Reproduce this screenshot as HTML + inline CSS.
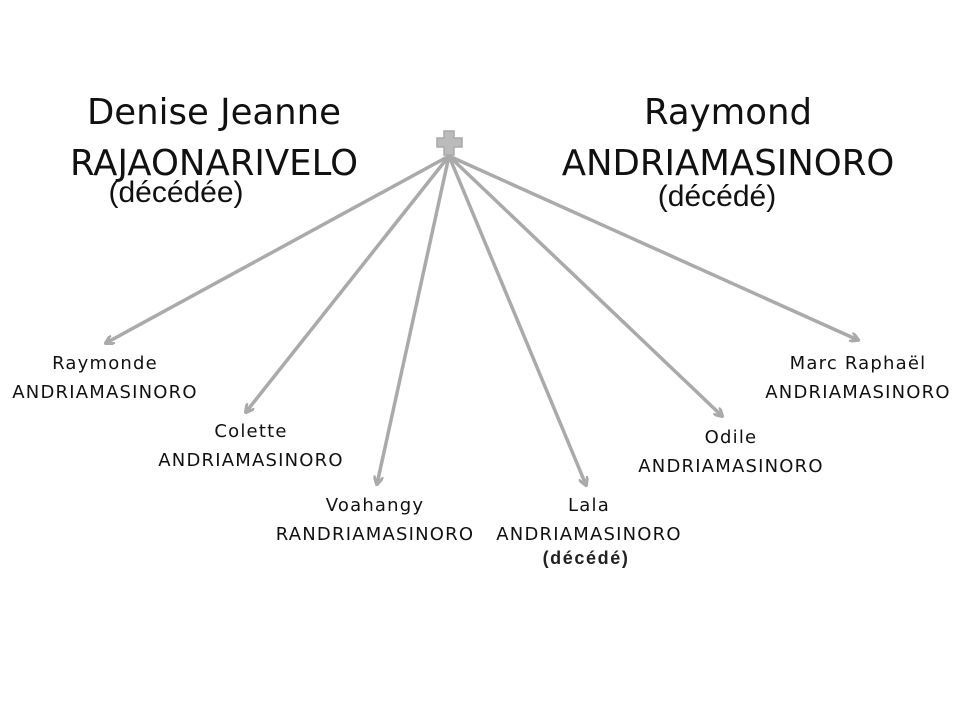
<!DOCTYPE html>
<html><head><meta charset="utf-8"><style>
html,body{margin:0;padding:0;background:#fff;}
body{width:960px;height:720px;position:relative;overflow:hidden;}
.t{position:absolute;white-space:nowrap;color:#111;transform:translateX(-50%);line-height:1;}
.h{font-family:"DejaVu Sans","Liberation Sans",sans-serif;font-size:35.5px;}
.d{font-family:"Liberation Sans",sans-serif;font-size:30px;}
.c{font-family:"DejaVu Sans","Liberation Sans",sans-serif;font-size:18px;letter-spacing:1.2px;}
</style></head><body>
<svg width="960" height="720" style="position:absolute;left:0;top:0">
<defs><marker id="a" markerWidth="10" markerHeight="10" refX="8" refY="5" orient="auto" markerUnits="userSpaceOnUse"><path d="M0,0 L9,5 L0,10" fill="none" stroke="#aaa" stroke-width="3"/></marker></defs>
<g stroke="#aaa" stroke-width="3.5" fill="none" marker-end="url(#a)">
<line x1="449" y1="156" x2="106" y2="343"/>
<line x1="449" y1="156" x2="246" y2="412"/>
<line x1="449" y1="156" x2="377" y2="484"/>
<line x1="449" y1="156" x2="586" y2="485"/>
<line x1="449" y1="156" x2="722" y2="416"/>
<line x1="449" y1="156" x2="858" y2="340"/>
</g>
<path d="M444,131 h10 v7 h8 v9 h-8 v8 h-10 v-8 h-7 v-9 h7z" fill="#bbb" stroke="#aaa" stroke-width="1.5"/>
</svg>
<div class="t h" style="left:214px;top:95px">Denise Jeanne</div>
<div class="t h" style="left:214px;top:146px">RAJAONARIVELO</div>
<div class="t d" style="left:176px;top:178px">(décédée)</div>
<div class="t h" style="left:728px;top:95px">Raymond</div>
<div class="t h" style="left:728px;top:146px">ANDRIAMASINORO</div>
<div class="t d" style="left:717px;top:182px">(décédé)</div>
<div class="t c" style="left:105px;top:355px">Raymonde</div>
<div class="t c" style="left:105px;top:384px">ANDRIAMASINORO</div>
<div class="t c" style="left:251px;top:423px">Colette</div>
<div class="t c" style="left:251px;top:452px">ANDRIAMASINORO</div>
<div class="t c" style="left:375px;top:497px">Voahangy</div>
<div class="t c" style="left:375px;top:526px">RANDRIAMASINORO</div>
<div class="t c" style="left:589px;top:497px">Lala</div>
<div class="t c" style="left:589px;top:526px">ANDRIAMASINORO</div>
<div class="t" style="left:586px;top:549px;font-family:'Liberation Sans',sans-serif;font-size:18px;font-weight:bold;letter-spacing:1.6px;color:#222">(décédé)</div>
<div class="t c" style="left:731px;top:429px">Odile</div>
<div class="t c" style="left:731px;top:458px">ANDRIAMASINORO</div>
<div class="t c" style="left:858px;top:355px">Marc Raphaël</div>
<div class="t c" style="left:858px;top:384px">ANDRIAMASINORO</div>
</body></html>
